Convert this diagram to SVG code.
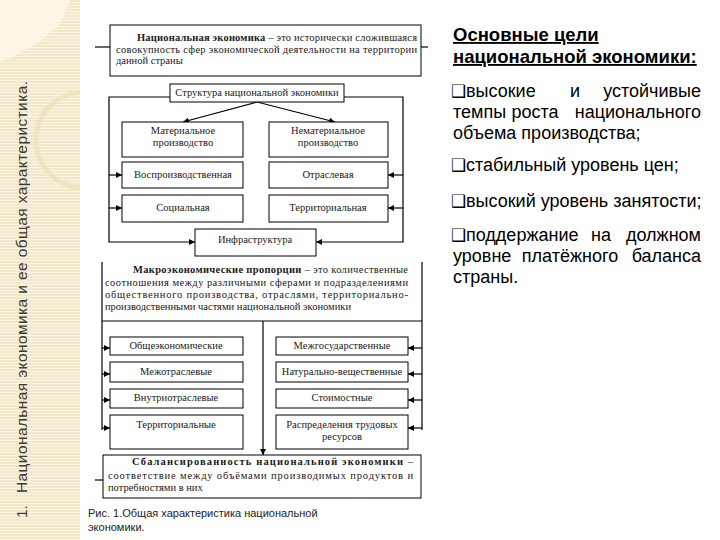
<svg xmlns="http://www.w3.org/2000/svg" width="720" height="540" viewBox="0 0 720 540">
  <defs>
    <pattern id="stripes" width="4" height="3" patternUnits="userSpaceOnUse">
      <rect width="4" height="3" fill="#f3e9ca"/>
      <rect y="2" width="4" height="1" fill="#faf4e2"/>
    </pattern>
    <clipPath id="stripClip"><rect x="0" y="0" width="80" height="540"/></clipPath>
    <marker id="ah" markerUnits="userSpaceOnUse" markerWidth="7" markerHeight="6" refX="6" refY="3" orient="auto">
      <path d="M0,0 L6,3 L0,6 z" fill="#000"/>
    </marker>
    <style>
      .box { fill: #fff; stroke: #000; stroke-width: 1; }
      .ln { fill: none; stroke: #000; stroke-width: 1.2; }
      .arr { fill: none; stroke: #000; stroke-width: 1.2; marker-end: url(#ah); }
      .t { font-family: "Liberation Serif", "Times New Roman", serif; font-size: 10.5px; fill: #1a1a1a; }
      .tc { font-family: "Liberation Serif", "Times New Roman", serif; font-size: 10.5px; fill: #1a1a1a; text-anchor: middle; }
      .b { font-weight: bold; }
      .r { font-family: "Liberation Sans", Arial, sans-serif; font-size: 18px; fill: #000; }
      .re { font-family: "Liberation Sans", Arial, sans-serif; font-size: 18px; fill: #000; text-anchor: end; }
      .rm { font-family: "Liberation Sans", Arial, sans-serif; font-size: 18px; fill: #000; text-anchor: middle; }
      .ttl { font-family: "Liberation Sans", Arial, sans-serif; font-size: 18.5px; font-weight: bold; fill: #000; text-decoration: underline; }
      .bul { font-family: "DejaVu Sans", sans-serif; font-size: 17px; fill: #000; }
      .cap { font-family: "Liberation Sans", Arial, sans-serif; font-size: 11px; fill: #222; }
      .side { font-family: "Liberation Sans", Arial, sans-serif; font-size: 15.5px; fill: #3a3a3a; }
    </style>
  </defs>

  <!-- background -->
  <rect x="0" y="0" width="720" height="540" fill="#fff"/>
  <g id="side-strip">
    <rect x="0" y="0" width="80" height="540" fill="url(#stripes)"/>
    <g clip-path="url(#stripClip)">
      <path d="M0,0 H70 Q62,38 0,62 Z" fill="#fbf7ea" opacity="0.8"/>
      <circle cx="84" cy="140" r="48" fill="none" stroke="#ece0b8" stroke-width="5" opacity="0.7"/>
    </g>
    <text class="side" transform="translate(27,518) rotate(-90)">1.</text>
    <text class="side" transform="translate(27,493) rotate(-90)" textLength="412" lengthAdjust="spacing">Национальная экономика и ее общая характеристика.</text>
  </g>

  <!-- connectors -->
  <g id="connectors">
    <path class="ln" d="M95,47 H110"/>
    <path class="ln" d="M421,47 H428"/>
    <path class="arr" d="M170,97 H109 V242 H195"/>
    <path class="arr" d="M344,97 H403 V242 H316"/>
    <path class="arr" d="M109,175 H122"/>
    <path class="arr" d="M109,208 H122"/>
    <path class="arr" d="M403,175 H388"/>
    <path class="arr" d="M403,208 H388"/>
    <path class="arr" d="M257,102 L183,122"/>
    <path class="arr" d="M257,102 L335,122"/>
    <path class="ln" d="M102,262 V430"/>
    <path class="ln" d="M422,262 V430"/>
    <path class="ln" d="M102,321 H422"/>
    <path class="arr" d="M102,348 H110"/>
    <path class="arr" d="M102,374 H110"/>
    <path class="arr" d="M102,400 H110"/>
    <path class="arr" d="M102,428 H110"/>
    <path class="arr" d="M422,348 H408"/>
    <path class="arr" d="M422,374 H408"/>
    <path class="arr" d="M422,400 H408"/>
    <path class="arr" d="M422,428 H408"/>
    <path class="arr" d="M263,321 V455"/>
    <path class="ln" d="M95,480 H103"/>
  </g>

  <!-- nodes -->
  <g id="node-definition">
    <rect class="box" x="110" y="25" width="311" height="51"/>
    <text class="t" x="137" y="41" textLength="280" lengthAdjust="spacing"><tspan class="b">Национальная экономика</tspan> – это исторически сложившаяся</text>
    <text class="t" x="116" y="52.5" textLength="301" lengthAdjust="spacing">совокупность сфер экономической деятельности на территории</text>
    <text class="t" x="116" y="64">данной страны</text>
  </g>

  <g id="node-structure">
    <rect class="box" x="170" y="84" width="174" height="18"/>
    <text class="tc" x="257" y="96">Структура национальной экономики</text>
  </g>

  <g id="node-material">
    <rect class="box" x="122" y="122" width="121" height="35"/>
    <text class="tc" x="183" y="134">Материальное</text>
    <text class="tc" x="183" y="146">производство</text>
  </g>
  <g id="node-nonmaterial">
    <rect class="box" x="269" y="122" width="119" height="35"/>
    <text class="tc" x="328" y="134">Нематериальное</text>
    <text class="tc" x="328" y="146">производство</text>
  </g>
  <g id="node-reproductive">
    <rect class="box" x="122" y="162" width="121" height="26"/>
    <text class="tc" x="183" y="178">Воспроизводственная</text>
  </g>
  <g id="node-sectoral">
    <rect class="box" x="269" y="162" width="119" height="26"/>
    <text class="tc" x="328" y="178">Отраслевая</text>
  </g>
  <g id="node-social">
    <rect class="box" x="122" y="195" width="121" height="27"/>
    <text class="tc" x="183" y="211">Социальная</text>
  </g>
  <g id="node-territorial">
    <rect class="box" x="269" y="195" width="119" height="27"/>
    <text class="tc" x="328" y="211">Территориальная</text>
  </g>
  <g id="node-infrastructure">
    <rect class="box" x="195" y="229" width="121" height="27"/>
    <text class="tc" x="255" y="243">Инфраструктура</text>
  </g>

  <g id="node-macro">
    <text class="t" x="133" y="273" textLength="275" lengthAdjust="spacing"><tspan class="b">Макроэкономические пропорции</tspan> – это количественные</text>
    <text class="t" x="105" y="285.5" textLength="303" lengthAdjust="spacing">соотношения между различными сферами и подразделениями</text>
    <text class="t" x="105" y="297.5" textLength="303" lengthAdjust="spacing">общественного производства, отраслями, территориально-</text>
    <text class="t" x="105" y="309.5">производственными частями национальной экономики</text>
  </g>

  <g id="node-general">
    <rect class="box" x="110" y="337" width="133" height="18"/>
    <text class="tc" x="176" y="349">Общеэкономические</text>
  </g>
  <g id="node-interstate">
    <rect class="box" x="276" y="337" width="132" height="18"/>
    <text class="tc" x="342" y="349">Межгосударственные</text>
  </g>
  <g id="node-intersectoral">
    <rect class="box" x="110" y="362" width="133" height="20"/>
    <text class="tc" x="176" y="375">Межотраслевые</text>
  </g>
  <g id="node-natural">
    <rect class="box" x="276" y="362" width="132" height="20"/>
    <text class="tc" x="342" y="375">Натурально-вещественные</text>
  </g>
  <g id="node-intrasectoral">
    <rect class="box" x="110" y="389" width="133" height="19"/>
    <text class="tc" x="176" y="401">Внутриотраслевые</text>
  </g>
  <g id="node-value">
    <rect class="box" x="276" y="389" width="132" height="19"/>
    <text class="tc" x="342" y="401">Стоимостные</text>
  </g>
  <g id="node-territorial2">
    <rect class="box" x="110" y="415" width="133" height="34"/>
    <text class="tc" x="176" y="428">Территориальные</text>
  </g>
  <g id="node-labour">
    <rect class="box" x="276" y="415" width="132" height="34"/>
    <text class="tc" x="342" y="428">Распределения трудовых</text>
    <text class="tc" x="342" y="440">ресурсов</text>
  </g>

  <g id="node-balance">
    <rect class="box" x="103" y="455" width="318" height="43"/>
    <text class="t" x="132" y="465" textLength="281" lengthAdjust="spacing"><tspan class="b">Сбалансированность национальной экономики</tspan> –</text>
    <text class="t" x="108" y="479" textLength="305" lengthAdjust="spacing">соответствие между объёмами производимых продуктов и</text>
    <text class="t" x="108" y="491">потребностями в них</text>
  </g>

  <g id="caption">
    <text class="cap" x="88" y="517">Рис. 1.Общая характеристика национальной</text>
    <text class="cap" x="88" y="531">экономики.</text>
  </g>

  <g id="goals">
    <text class="ttl" x="453" y="41">Основные цели</text>
    <text class="ttl" x="453" y="63">национальной экономики:</text>

    <text class="bul" x="451" y="97">❑</text>
    <text class="r" x="466" y="97">высокие</text>
    <text class="rm" x="575" y="97">и</text>
    <text class="re" x="701" y="97">устойчивые</text>
    <text class="r" x="453" y="118">темпы</text>
    <text class="rm" x="535" y="118">роста</text>
    <text class="re" x="701" y="118">национального</text>
    <text class="r" x="453" y="139">объема производства;</text>

    <text class="bul" x="451" y="171">❑</text>
    <text class="r" x="466" y="171">стабильный уровень цен;</text>

    <text class="bul" x="451" y="207">❑</text>
    <text class="r" x="466" y="207">высокий уровень занятости;</text>

    <text class="bul" x="451" y="241">❑</text>
    <text class="r" x="466" y="241">поддержание</text>
    <text class="rm" x="601" y="241">на</text>
    <text class="re" x="701" y="241">должном</text>
    <text class="r" x="453" y="262">уровне</text>
    <text class="rm" x="570" y="262">платёжного</text>
    <text class="re" x="701" y="262">баланса</text>
    <text class="r" x="453" y="283">страны.</text>
  </g>
</svg>
